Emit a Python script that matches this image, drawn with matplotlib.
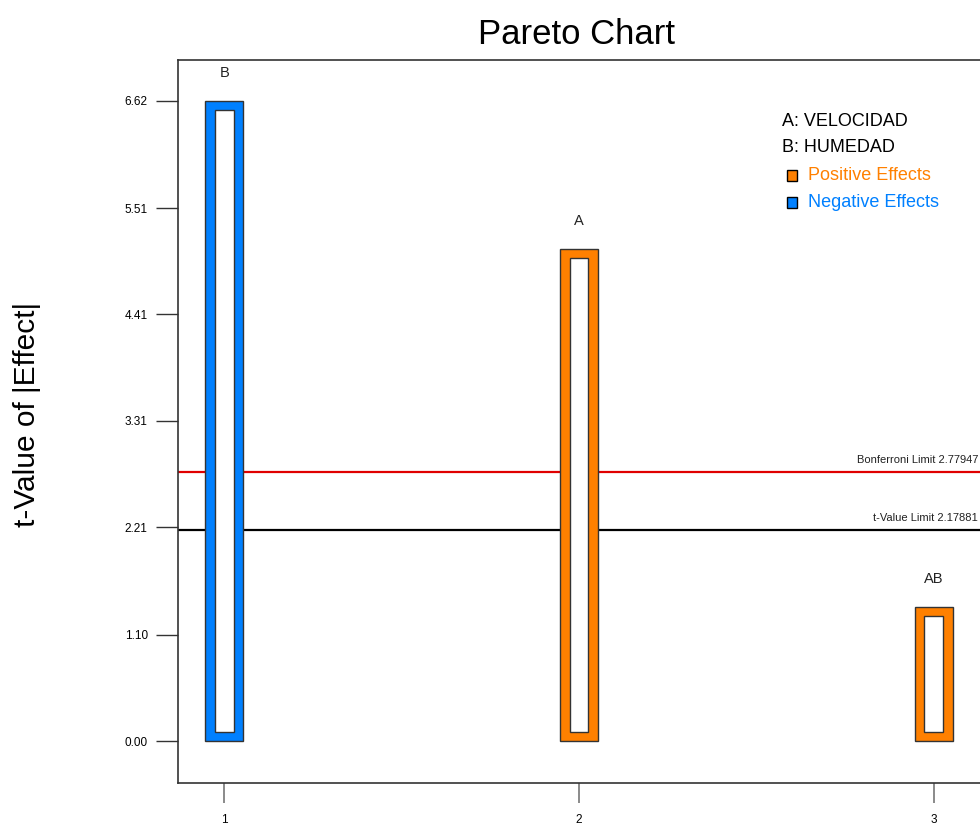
import matplotlib
matplotlib.use("Agg")
import matplotlib.pyplot as plt

# Effects ranked by |t|, with the interaction last
terms = ["B", "A", "AB"]
ranks = [1, 2, 3]
t_values = [6.62, 5.09, 1.39]
signs = ["negative", "positive", "positive"]

y_ticks = [0.00, 1.10, 2.21, 3.31, 4.41, 5.51, 6.62]
bonferroni_limit = 2.77947
t_value_limit = 2.17881

factor_names = ["A: VELOCIDAD", "B: HUMEDAD"]

POS_COLOR = "#FF8000"
NEG_COLOR = "#0080FF"

plt.rcParams["font.family"] = ["Liberation Sans", "DejaVu Sans"]

fig = plt.figure(figsize=(9.8, 8.25), dpi=100)
ax = fig.add_axes([178 / 980, 1 - 783 / 825, 1 - 178 / 980, (783 - 60) / 825])

xmin, xmax = 0.87, 3.13
ymin, ymax = -0.434, 7.04
ax.set_xlim(xmin, xmax)
ax.set_ylim(ymin, ymax)

# bar frame: coloured band with a white core
bar_w = 0.107
px_x = (xmax - xmin) / (980 - 178)
px_y = (ymax - ymin) / (783 - 60)
inset_x = 9.5 * px_x
inset_y = 9.5 * px_y

for rank, term, val, sign in zip(ranks, terms, t_values, signs):
    color = NEG_COLOR if sign == "negative" else POS_COLOR
    ax.bar(rank, val, width=bar_w, color=color, edgecolor="#333333",
           linewidth=1.0, zorder=3)
    ax.bar(rank, val - 2 * inset_y, bottom=inset_y, width=bar_w - 2 * inset_x,
           color="white", edgecolor="#333333", linewidth=1.0, zorder=4)
    ax.text(rank, val + 28 * px_y, term, ha="center", va="center",
            fontsize=10.5, color="#222222")

# significance thresholds
ax.axhline(bonferroni_limit, color="#E00000", linewidth=1.6, zorder=2)
ax.axhline(t_value_limit, color="black", linewidth=1.6, zorder=2)
ax.text(xmax - 2 * px_x, bonferroni_limit + 12 * px_y,
        f"Bonferroni Limit {bonferroni_limit:.5f}", ha="right", va="center",
        fontsize=8, color="#222222")
ax.text(xmax - 2 * px_x, t_value_limit + 12 * px_y,
        f"t-Value Limit {t_value_limit:.5f}", ha="right", va="center",
        fontsize=8, color="#222222")

ax.set_yticks(y_ticks)
ax.set_yticklabels([f"{v:.2f}" for v in y_ticks], fontsize=8.5)
ax.set_xticks(ranks)
ax.set_xticklabels([str(r) for r in ranks], fontsize=8.5)
ax.tick_params(axis="y", length=15.8, width=1.0, color="#333333", pad=6)
ax.tick_params(axis="x", length=14.4, width=1.2, color="#777777", pad=8)

for side in ("left", "top", "bottom"):
    ax.spines[side].set_color("#333333")
    ax.spines[side].set_linewidth(1.2)
ax.spines["right"].set_visible(False)

fig.text(577 / 980, 1 - 34 / 825, "Pareto Chart", ha="center", va="center",
         fontsize=25, color="black")
fig.text(27 / 980, 1 - 414 / 825, "t-Value of |Effect|", ha="center",
         va="center", rotation=90, fontsize=21.5, color="black")

# factor key and sign legend
leg_x = 782 / 980
fig.text(leg_x, 1 - 121 / 825, factor_names[0], ha="left", va="center",
         fontsize=13, color="black")
fig.text(leg_x, 1 - 148 / 825, factor_names[1], ha="left", va="center",
         fontsize=13, color="black")
for y_px, label, color in [(175.5, "Positive Effects", POS_COLOR),
                           (202.5, "Negative Effects", NEG_COLOR)]:
    fig.patches.append(plt.Rectangle((787 / 980, 1 - (y_px + 5.5) / 825),
                                     10 / 980, 11 / 825, facecolor=color,
                                     edgecolor="black", linewidth=1.0,
                                     transform=fig.transFigure, figure=fig))
    fig.text(808 / 980, 1 - y_px / 825, label, ha="left", va="center",
             fontsize=13, color=color)

fig.savefig("out.png", dpi=100)
